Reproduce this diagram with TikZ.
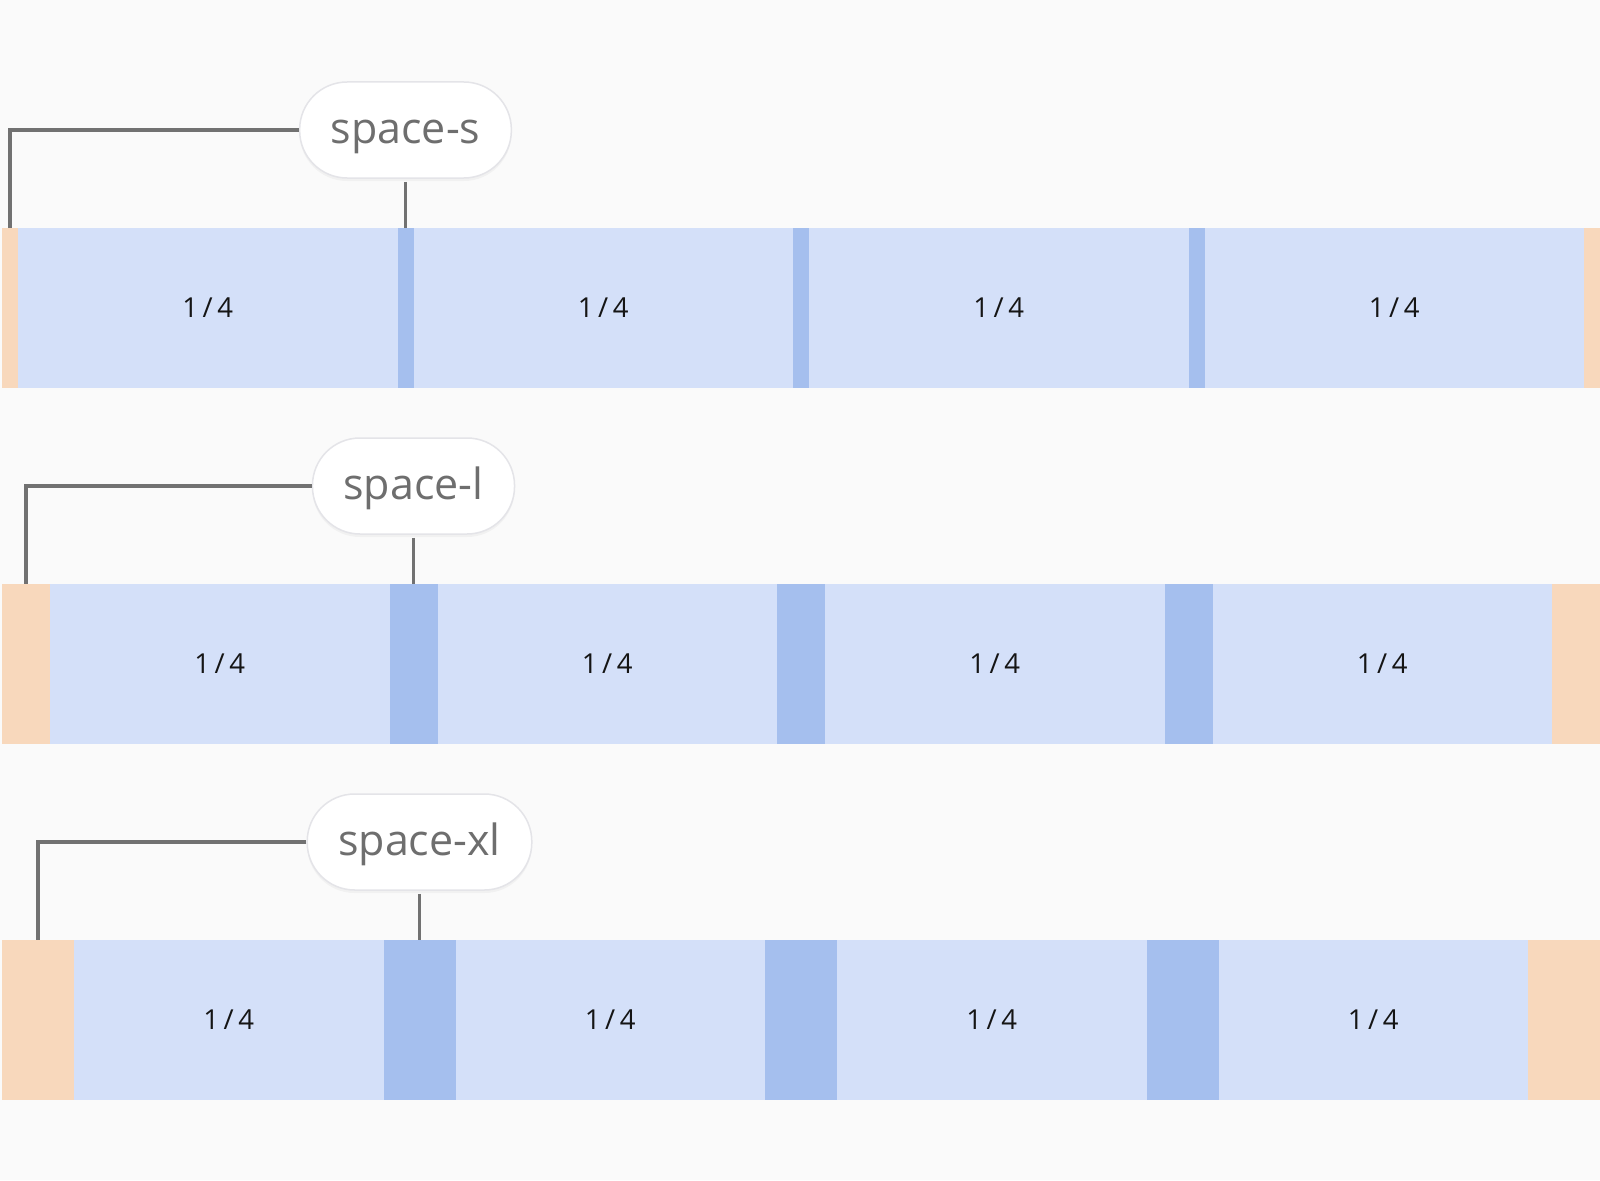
\documentclass[tikz,border=0pt]{standalone}
\usepackage{fontspec}
\setmainfont{Open Sans}
\usetikzlibrary{shadows}
\definecolor{bg}{HTML}{FAFAFA}
\definecolor{colfill}{HTML}{D4E0F9}
\definecolor{gutfill}{HTML}{A5BFEE}
\definecolor{padfill}{HTML}{F8D8BC}
\definecolor{conncol}{HTML}{717171}
\definecolor{labcol}{HTML}{6E6E6E}
\definecolor{pillborder}{HTML}{E4E4E8}
\definecolor{numcol}{HTML}{151515}
\tikzset{
  cell/.style={draw=none, inner sep=0pt, minimum height=160pt, outer sep=0pt},
  colbox/.style={cell, fill=colfill, font=\fontsize{27.5}{32}\selectfont, text=numcol,
    text height=19.6pt, text depth=0pt},
  gutbox/.style={cell, fill=gutfill},
  padbox/.style={cell, fill=padfill},
  pill/.style={fill=white, draw=pillborder, line width=1.5pt, rounded corners=47.5pt,
    minimum height=96pt, inner xsep=31pt, inner ysep=0pt, text=labcol,
    text height=30pt, text depth=4pt,
    font=\fontsize{43}{50}\selectfont,
    drop shadow={opacity=0.07, shadow xshift=0pt, shadow yshift=-3pt}},
  conn/.style={draw=conncol, line width=3.5pt}
}
\begin{document}
\begin{tikzpicture}[x=1pt, y=-1pt]
\fill[bg] (0,0) rectangle (1600,1180);
\useasboundingbox (0,0) rectangle (1600,1180);
\foreach \r/\p/\t/\lab in {1/16/228/space-s, 2/48/584/space-l, 3/72/940/space-xl}{
  \pgfmathsetmacro\w{(1598-5*\p)/4}
  \pgfmathsetmacro\cy{\t+80}
  % paddings
  \node[padbox, minimum width=\p pt] (pl\r) at ({2+\p/2}, \cy) {};
  \node[padbox, minimum width=\p pt] (pr\r) at ({1600-\p/2}, \cy) {};
  % columns
  \foreach \i in {0,1,2,3}{
    \node[colbox, minimum width=\w pt] (c\r\i) at ({2+\p+\i*(\w+\p)+\w/2}, \cy) {1\,/\,4};
  }
  % gutters
  \foreach \i in {1,2,3}{
    \node[gutbox, minimum width=\p pt] (g\r\i) at ({2+\p+\i*\w+(\i-1)*\p+\p/2}, \cy) {};
  }
  % label
  \node[pill] (pill\r) at ({2+\p+\w+\p/2}, {\t-98}) {\lab};
  \draw[conn] (pill\r.west) -| (pl\r.north);
  \draw[conn, shorten <=3pt] (pill\r.south) -- (g\r1.north);
}
\end{tikzpicture}
\end{document}
